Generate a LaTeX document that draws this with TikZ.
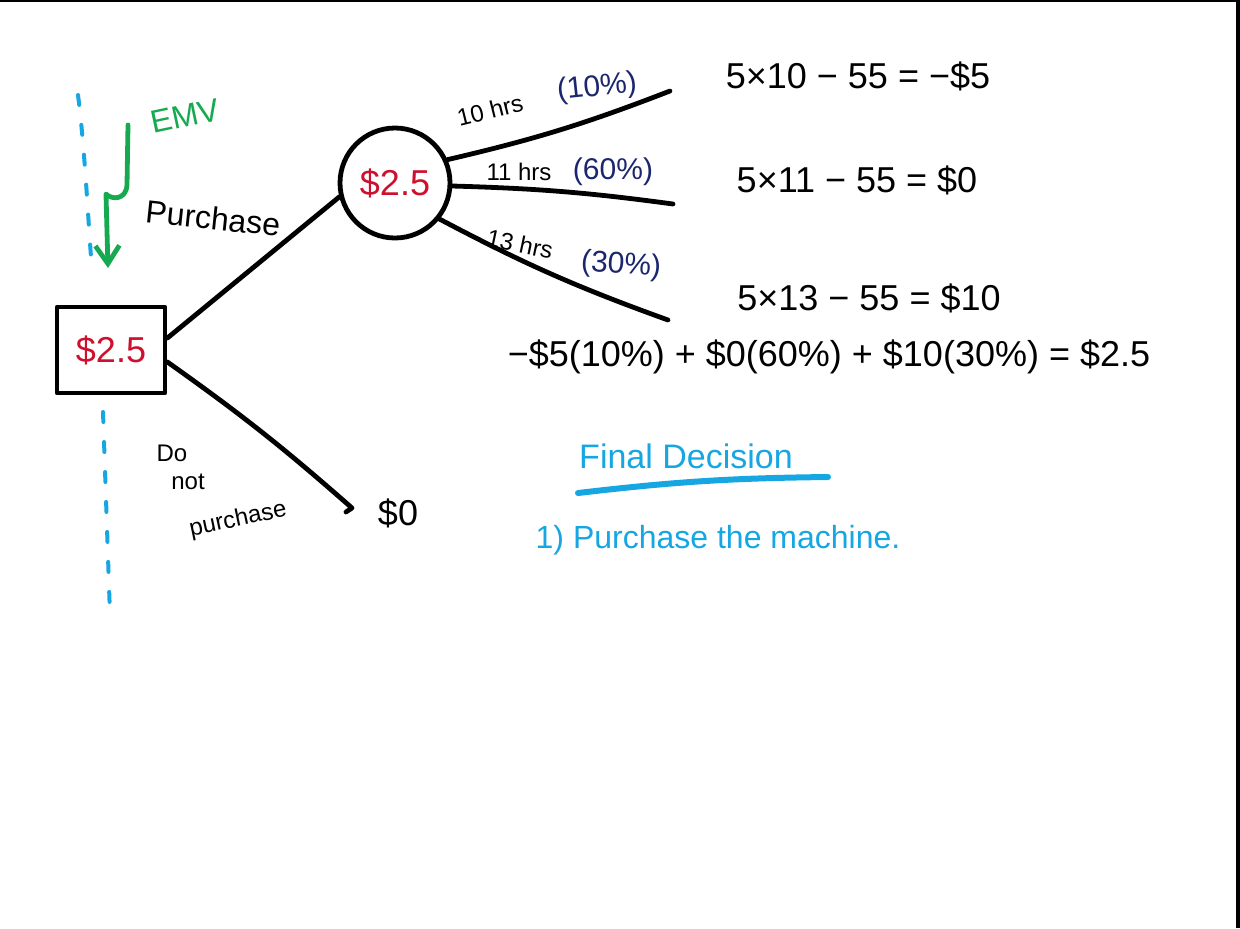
\documentclass[tikz,border=0pt]{standalone}
\usepackage{fontspec}
\setmainfont{Liberation Sans}
\usepackage{xcolor}
\usepackage{tikz}
\usetikzlibrary{arrows.meta}

\definecolor{inkred}{RGB}{205,16,45}
\definecolor{inknavy}{RGB}{28,38,110}
\definecolor{inkgreen}{RGB}{22,170,80}
\definecolor{inkblue}{RGB}{22,166,226}

\begin{document}
\begin{tikzpicture}[x=0.5pt,y=-0.5pt,
    pen/.style={line width=2.4pt,line cap=round,line join=round},
    val/.style={text=inkred,font=\fontsize{18}{20}\selectfont},
    calc/.style={font=\fontsize{18}{20}\selectfont},
    hrs/.style={font=\fontsize{12}{14}\selectfont},
    pct/.style={text=inknavy,font=\fontsize{15}{17}\selectfont},
    note/.style={text=inkblue,font=\fontsize{16}{18}\selectfont},
    dots/.style={inkblue,line width=2pt,line cap=round,dash pattern=on 5pt off 10pt}]
  \useasboundingbox (0,0) rectangle (1240,928); % page of the sketch
  \draw[line width=1pt] (0,1) -- (1240,1);
  \draw[line width=2pt] (1238,0) -- (1238,928);

  \node[draw,pen,minimum width=54pt,minimum height=43pt,val] (dec) at (111,350) {\$2.5};
  \node[draw,circle,pen,minimum size=55pt,val] (chance) at (395,183) {\$2.5};

  \coordinate (t0) at (352,508);
  \coordinate (t1) at (670,91);
  \coordinate (t2) at (673,204);
  \coordinate (t3) at (668,320);

  \draw[pen] (dec.12) -- (chance.194);
  \draw[pen] (dec.-12) to[bend left=3] (t0) -- ++(-6,4);
  \draw[pen] (chance.24) to[bend right=4] (t1);
  \draw[pen] (chance.-3) to[bend left=3] (t2);
  \draw[pen] (chance.-39) to[bend right=4] (t3);

  \node[font=\fontsize{16}{18}\selectfont,rotate=-6] (lblbuy) at (213,218) {Purchase};
  \node[font=\fontsize{12}{14}\selectfont] (lbldo) at (172,453) {Do};
  \node[font=\fontsize{12}{14}\selectfont] (lblnot) at (188,482) {not};
  \node[font=\fontsize{12}{14}\selectfont,rotate=12] (lblnobuy) at (238,520) {purchase};
  \node[calc] (v0) at (398,513) {\$0};

  \node[hrs,rotate=14] (h1) at (490,110) {10 hrs};
  \node[pct,rotate=6] (p1) at (597,88) {(10\%)};
  \node[hrs] (h2) at (519,172) {11 hrs};
  \node[pct] (p2) at (613,172) {(60\%)};
  \node[hrs,rotate=-12] (h3) at (520,244) {13 hrs};
  \node[pct,rotate=-4] (p3) at (621,266) {(30\%)};

  \node[calc] (r1) at (858,76) {5×10 − 55 = −\$5};
  \node[calc] (r2) at (857,180) {5×11 − 55 = \$0};
  \node[calc] (r3) at (869,298) {5×13 − 55 = \$10};
  \node[calc] (emvsum) at (829,357) {−\$5(10\%) + \$0(60\%) + \$10(30\%) = \$2.5};

  \node[note,font=\fontsize{17}{19}\selectfont] (fin) at (686,456) {Final Decision};
  \draw[inkblue,line width=3pt,line cap=round] (578,493) to[bend left=3] (828,477);
  \node[note] (step1) at (718,540) {1) Purchase the machine.};

  \node[text=inkgreen,font=\fontsize{16}{18}\selectfont,rotate=12] (emv) at (185,116) {EMV};
  \draw[inkgreen,pen,-{Straight Barb[length=9pt,width=12pt]}] (128,125) -- (127,185)
    .. controls (126,200) and (112,200) .. (106,194) -- (108,268);

  \draw[dots] (78,95) .. controls (85,150) and (88,220) .. (92,270);
  \draw[dots] (103,412) -- (110,615);
\end{tikzpicture}
\end{document}
